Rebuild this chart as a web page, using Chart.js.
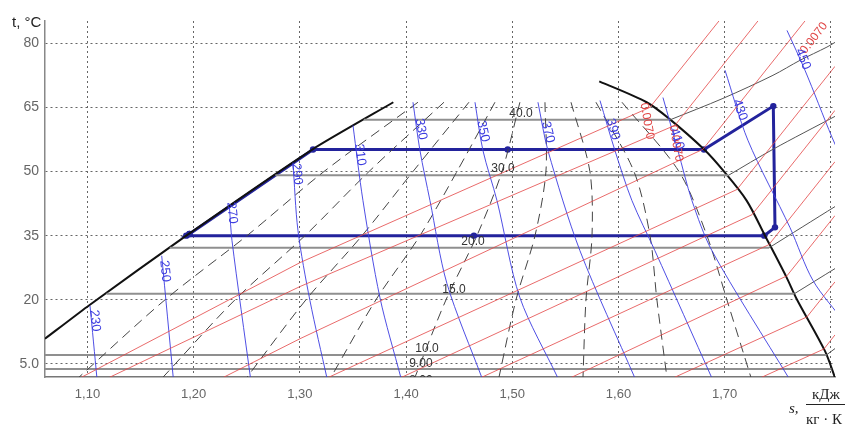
<!DOCTYPE html>
<html><head><meta charset="utf-8">
<script src="https://cdn.jsdelivr.net/npm/chart.js@4.4.0/dist/chart.umd.min.js"></script>
<style>html,body{margin:0;padding:0;background:#fff;}</style>
</head><body>
<canvas id="c" width="845" height="427"></canvas>
<script>
// ---- axes ----
const xTicks = [1.1, 1.2, 1.3, 1.4, 1.5, 1.6, 1.7, 1.8];
const yTicks = [5, 20, 35, 50, 65, 80];

// ---- saturation curve ----
const liquidS = [1.060, 1.102, 1.193, 1.312, 1.388];
const liquidT = [10.9, 18.8, 35.0, 55.2, 66.2];
const vaporS = [1.5819, 1.6265, 1.6485, 1.6805, 1.6987, 1.7207, 1.7380, 1.7584, 1.7678, 1.7944, 1.8039];
const vaporT = [71.1, 66.2, 62.2, 55.2, 50.2, 43.2, 35.0, 25.2, 20.2, 8.05, 1.8];

// ---- refrigeration cycle ----
const cycleS = [1.196, 1.3124, 1.4957, 1.6805, 1.7458, 1.7474, 1.7373, 1.4639, 1.193, 1.196];
const cycleT = [35.4, 55.16, 55.16, 55.16, 65.3, 36.95, 35.0, 35.0, 35.0, 35.4];

// ---- isobars (bar) ----
const isobarLabels = ['40.0', '30.0', '20.0', '15.0', '10.0', '9.00', '8.00'];
const isobarT = [62.1, 49.1, 32.2, 21.4, 7.1, 3.8];
const isobarLiqS = [1.3602, 1.2769, 1.1775, 1.1179, 1.06, 1.06];
const isobarVapS = [1.6487, 1.7035, 1.742, 1.7655, 1.7958, 1.8005];
const superS = [[1.6487, 1.6984, 1.7455, 1.7709, 1.7963, 1.8039], [1.7035, 1.7455, 1.8039], [1.742, 1.8039], [1.7655, 1.8039], [1.7958, 1.8039]];
const superT = [[62.1, 67.1, 72.5, 76.0, 79.1, 80.2], [49.1, 55.2, 62.9], [32.2, 41.8], [21.4, 27.3], [7.1, 8.6]];
const isobarLabelS = [1.5082, 1.4913, 1.4630, 1.4451, 1.4197, 1.4140, 1.4140];
const isobarLabelT = [63.6, 50.7, 33.6, 22.3, 8.5, 5.0, 1.0];

// ---- isenthalps (kJ/kg) ----
const enthLabels = ['230', '250', '270', '290', '310', '330', '350', '370', '390', '410', '430', '450'];
const enthS = [
  [1.1024, 1.1089],
  [1.1699, 1.1808],
  [1.2337, 1.2361, 1.2535],
  [1.2935, 1.2982, 1.3095, 1.3255],
  [1.3500, 1.3594, 1.3754, 1.3952],
  [1.4065, 1.4131, 1.4225, 1.4385, 1.4715],
  [1.4649, 1.4724, 1.4856, 1.5072, 1.5430],
  [1.5242, 1.5336, 1.5637, 1.6155],
  [1.5826, 1.5967, 1.6127, 1.6343, 1.6880],
  [1.6419, 1.6560, 1.6692, 1.6880, 1.7604],
  [1.7003, 1.7219, 1.7615, 1.7832, 1.8133],
  [1.7587, 1.7756, 1.8011, 1.8133]
];
const enthT = [
  [18.6, 1.7],
  [30.3, 1.7],
  [41.6, 33.8, 1.7],
  [52.1, 36.2, 19.8, 1.7],
  [60.8, 43.2, 20.5, 1.7],
  [66.2, 54.9, 43.2, 23.8, 1.7],
  [66.2, 54.9, 43.2, 20.5, 1.7],
  [66.2, 54.9, 31.5, 1.7],
  [66.6, 54.9, 43.2, 31.5, 1.7],
  [67.3, 54.9, 43.2, 31.5, 1.7],
  [73.7, 57.3, 36.9, 24.5, 14.6],
  [83.0, 73.7, 58.0, 51.4]
];
const enthLabelS = [1.1071, 1.1730, 1.2361, 1.2972, 1.3566, 1.4140, 1.4724, 1.5336, 1.5948, 1.6551, 1.7144, 1.7737];
const enthLabelT = [15.1, 26.7, 40.3, 49.4, 53.9, 59.9, 59.4, 59.2, 59.9, 57.6, 64.4, 76.3];

// ---- isochores (m3/kg) ----
const volS = [
  [1.0929, 1.3001, 1.6296, 1.6946],
  [1.1193, 1.3001, 1.6532, 1.7313],
  [1.2267, 1.3001, 1.6795, 1.7756],
  [1.3255, 1.7116, 1.8039],
  [1.3943, 1.7257, 1.8039],
  [1.4696, 1.7417, 1.8039],
  [1.5543, 1.7586, 1.8039],
  [1.6513, 1.7775, 1.8039],
  [1.7332, 1.7935, 1.8039]
];
const volT = [
  [1.7, 28.7, 65.0, 85.2],
  [1.7, 23.1, 60.8, 85.2],
  [1.7, 10.9, 55.2, 85.2],
  [1.7, 45.8, 74.6],
  [1.7, 39.9, 64.3],
  [1.7, 32.9, 52.3],
  [1.7, 25.6, 39.7],
  [1.7, 16.0, 24.2],
  [1.7, 8.5, 11.8]
];
const volLabels = ['0.0070', '0.0070', '0.0070'];
const volLabelS = [1.6268, 1.6541, 1.7841];
const volLabelT = [61.8, 56.6, 81.2];

// ---- dryness lines ----
const qualityT = [66.2, 50, 35, 20, 1.9];
const qualityS = [
  [1.4112, 1.3227, 1.2502, 1.1730, 1.0920],
  [1.4357, 1.3651, 1.3048, 1.2389, 1.1711],
  [1.4592, 1.4065, 1.3585, 1.3057, 1.2502],
  [1.4837, 1.4479, 1.4131, 1.3716, 1.3293],
  [1.5072, 1.4903, 1.4667, 1.4376, 1.4084],
  [1.5308, 1.5317, 1.5214, 1.5035, 1.4875],
  [1.5553, 1.5731, 1.5751, 1.5694, 1.5666],
  [1.5788, 1.6146, 1.6297, 1.6362, 1.6456],
  [1.6033, 1.6570, 1.6833, 1.7021, 1.7247]
];

// ---- build datasets ----
const pts = (S, T) => S.map((s, i) => ({ x: s, y: Array.isArray(T) ? T[i] : T }));
const ds = [];
const addLine = (data, color, width, extra) => ds.push(Object.assign({
  data, showLine: true, borderColor: color, borderWidth: width, pointRadius: 0,
  tension: 0, fill: false
}, extra || {}));

volS.forEach((S, i) => addLine(pts(S, volT[i]), 'rgba(228,70,70,0.8)', 1));
enthS.forEach((S, i) => addLine(pts(S, enthT[i]), 'rgba(60,60,225,0.9)', 1, { tension: 0.3 }));
qualityS.forEach(S => addLine(pts(S, qualityT), '#444', 1, { tension: 0.3, borderDash: [10, 6] }));
isobarT.forEach((t, i) => addLine([{ x: isobarLiqS[i], y: t }, { x: isobarVapS[i], y: t }], '#8f8f8f', 2));
superS.forEach((S, i) => addLine(pts(S, superT[i]), '#555', 1, { tension: 0.3 }));
addLine(pts(liquidS, liquidT), '#111', 2, { tension: 0.2 });
addLine(pts(vaporS, vaporT), '#111', 2, { tension: 0.3 });
addLine(pts(cycleS, cycleT), '#23239c', 3, { pointRadius: 3.2, pointBackgroundColor: '#23239c', pointBorderWidth: 0 });

const FONT_N = "'Liberation Sans Narrow', 'Liberation Sans', Arial, sans-serif";
const FONT_R = "'Liberation Sans', Arial, sans-serif";

const textPlugin = {
  id: 'texts',
  afterDatasetsDraw(chart) {
    const { ctx, chartArea: a, scales: { x, y } } = chart;
    ctx.save();
    ctx.beginPath(); ctx.rect(a.left, a.top, a.right - a.left, a.bottom - a.top); ctx.clip();
    const put = (txt, s, t, rot, color, font) => {
      ctx.save();
      ctx.translate(x.getPixelForValue(s), y.getPixelForValue(t));
      ctx.rotate(rot * Math.PI / 180);
      ctx.fillStyle = color; ctx.font = font;
      ctx.textAlign = 'center'; ctx.textBaseline = 'middle';
      ctx.fillText(txt, 0, 0);
      ctx.restore();
    };
    isobarLabels.forEach((l, i) => put(l, isobarLabelS[i], isobarLabelT[i], 0, '#333', '12px ' + FONT_R));
    const volRot = [80, 80, -52];
    volLabels.forEach((l, i) => put(l, volLabelS[i], volLabelT[i], volRot[i], '#e04545', '12px ' + FONT_R));
    const enthRot = [84, 84, 84, 84, 82, 80, 78, 76, 74, 72, 70, 68];
    enthLabels.forEach((l, i) => put(l, enthLabelS[i], enthLabelT[i], enthRot[i], '#3c3ce0', '13px ' + FONT_R));
    ctx.restore();
  },
  afterDraw(chart) {
    const { ctx } = chart;
    ctx.save();
    ctx.fillStyle = '#222';
    ctx.font = '15px ' + FONT_N;
    ctx.textAlign = 'left'; ctx.textBaseline = 'alphabetic';
    ctx.fillText('t, °C', 12, 27);
    ctx.font = 'italic 15px "Liberation Serif", "Times New Roman", serif';
    ctx.fillText('s,', 789, 413);
    ctx.font = '15px "Liberation Serif", "Times New Roman", serif';
    ctx.textAlign = 'center';
    ctx.fillText('кДж', 826, 399);
    ctx.fillText('кг · К', 824, 424);
    ctx.strokeStyle = '#222'; ctx.lineWidth = 1;
    ctx.beginPath(); ctx.moveTo(806, 404.5); ctx.lineTo(845, 404.5); ctx.stroke();
    ctx.restore();
  }
};

new Chart(document.getElementById('c'), {
  type: 'scatter',
  data: { datasets: ds },
  options: {
    responsive: false, animation: false, devicePixelRatio: 1,
    layout: { padding: { left: 0, top: 21, right: 10, bottom: 0 } },
    plugins: { legend: { display: false }, tooltip: { enabled: false } },
    scales: {
      x: {
        type: 'linear', min: 1.06, max: 1.8039,
        afterBuildTicks: sc => { sc.ticks = xTicks.map(v => ({ value: v })); },
        afterFit: sc => { sc.height = 50; },
        ticks: {
          padding: 10, color: '#666', font: { family: FONT_N, size: 13 },
          callback: v => (Math.abs(v - 1.8) < 1e-6 ? '' : v.toFixed(2).replace('.', ','))
        },
        grid: { color: '#666', lineWidth: 1, drawTicks: false },
        border: { display: true, color: '#777', width: 1.5, dash: [2, 3] }
      },
      y: {
        type: 'linear', min: 1.95, max: 85.2,
        afterBuildTicks: sc => { sc.ticks = yTicks.map(v => ({ value: v })); },
        afterFit: sc => { sc.width = 45; },
        ticks: {
          padding: 6, color: '#666', font: { family: FONT_N, size: 14 },
          callback: v => (v === 5 ? '5.0' : String(v))
        },
        grid: { color: '#666', lineWidth: 1, drawTicks: false },
        border: { display: true, color: '#888', width: 1.5, dash: [2, 3] }
      }
    }
  },
  plugins: [textPlugin]
});
</script>
</body></html>
